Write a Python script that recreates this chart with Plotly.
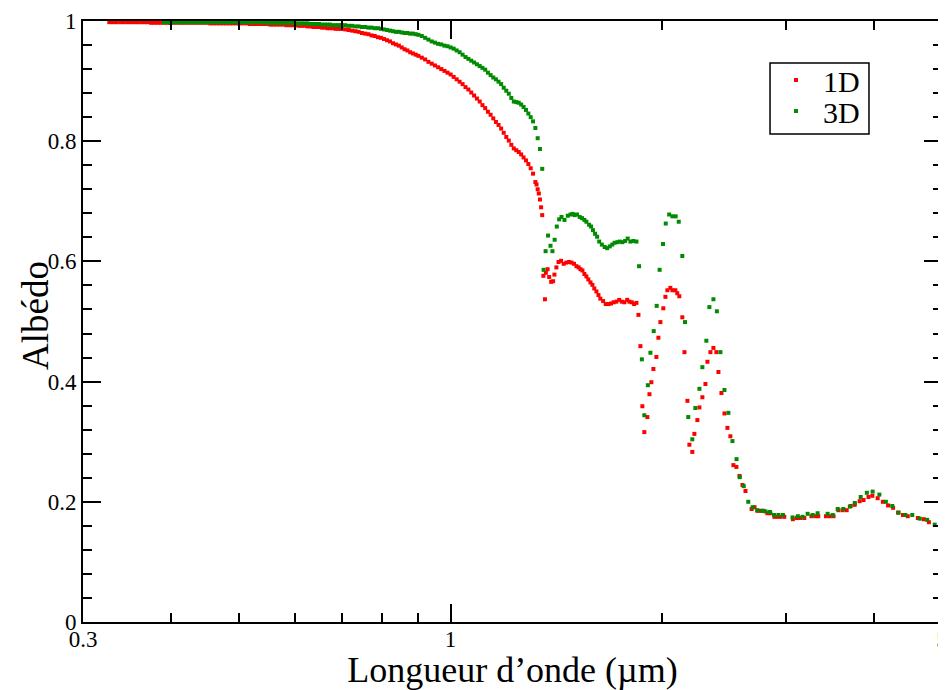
import math
import plotly.graph_objects as go

# ---------------- data ----------------
# 1D model (red)
wl_1d = [
    0.327, 0.331, 0.335, 0.339, 0.343, 0.347, 0.351, 0.355, 0.359, 0.363,
    0.367, 0.371, 0.375, 0.379, 0.383, 0.387, 0.391, 0.395, 0.399,
    0.400, 0.405, 0.410, 0.415, 0.420, 0.425, 0.430, 0.435, 0.440, 0.445,
    0.450, 0.455, 0.460, 0.465, 0.470, 0.475, 0.480, 0.485, 0.490, 0.495,
    0.500, 0.506, 0.512, 0.518, 0.524, 0.530, 0.536, 0.542, 0.548, 0.554,
    0.560, 0.566, 0.572, 0.578, 0.584, 0.590, 0.596, 0.602, 0.608, 0.614,
    0.620, 0.626, 0.632, 0.638, 0.644, 0.650, 0.656, 0.662, 0.668, 0.674,
    0.680, 0.686, 0.692, 0.698,
    0.700, 0.708, 0.716, 0.724, 0.732, 0.740, 0.748, 0.756, 0.764, 0.772,
    0.780, 0.788, 0.796, 0.804, 0.812, 0.820, 0.828, 0.836, 0.844, 0.852,
    0.860, 0.868, 0.876, 0.884, 0.892,
    0.90, 0.91, 0.92, 0.93, 0.94, 0.95, 0.96, 0.97, 0.98, 0.99,
    1.00, 1.01, 1.02, 1.03, 1.04, 1.05, 1.06, 1.07, 1.08, 1.09,
    1.10, 1.11, 1.12, 1.13, 1.14, 1.15, 1.16, 1.17, 1.18, 1.19,
    1.20, 1.21, 1.22, 1.23, 1.24, 1.25, 1.26, 1.27, 1.28, 1.29,
    1.30, 1.31, 1.32, 1.325, 1.33, 1.335, 1.34, 1.345, 1.35,
    1.355, 1.362, 1.366, 1.374, 1.381, 1.390, 1.399, 1.405, 1.414, 1.424,
    1.436, 1.448, 1.461, 1.474, 1.486, 1.498, 1.510, 1.521, 1.530, 1.540,
    1.550, 1.560, 1.570, 1.581, 1.591, 1.601, 1.612, 1.623, 1.633, 1.648,
    1.662, 1.677, 1.691, 1.706, 1.721, 1.737, 1.752, 1.767, 1.783, 1.796,
    1.810, 1.824, 1.838, 1.850, 1.862, 1.874, 1.886, 1.905, 1.918, 1.930,
    1.943, 1.962, 1.975, 1.988, 2.007, 2.021, 2.034, 2.054, 2.068, 2.088,
    2.101, 2.115, 2.136, 2.151, 2.172, 2.186, 2.207, 2.222, 2.244, 2.259,
    2.281, 2.304, 2.319, 2.342, 2.365, 2.388, 2.404, 2.428, 2.452, 2.476,
    2.500, 2.525, 2.550, 2.576, 2.601, 2.627, 2.680, 2.706, 2.733, 2.759,
    2.786, 2.822, 2.850, 2.888, 2.917, 2.945, 2.983, 3.068, 3.110, 3.142,
    3.185, 3.260, 3.302, 3.334, 3.419, 3.462, 3.505, 3.561, 3.610, 3.659,
    3.708, 3.757, 3.818, 3.867, 3.930, 3.980, 4.050, 4.120, 4.190, 4.260,
    4.330, 4.400, 4.470, 4.620, 4.710, 4.790,
]
alb_1d = [
    0.998, 0.998, 0.998, 0.998, 0.998, 0.998, 0.998, 0.998, 0.998, 0.998,
    0.998, 0.998, 0.997, 0.997, 0.997, 0.997, 0.997, 0.997, 0.997,
    0.997, 0.997, 0.997, 0.997, 0.997, 0.997, 0.997, 0.997, 0.997, 0.997,
    0.997, 0.996, 0.996, 0.996, 0.996, 0.996, 0.996, 0.996, 0.996, 0.996,
    0.996, 0.996, 0.996, 0.995, 0.995, 0.995, 0.995, 0.995, 0.995, 0.994,
    0.994, 0.994, 0.994, 0.994, 0.993, 0.993, 0.993, 0.993, 0.992, 0.992,
    0.992, 0.991, 0.991, 0.990, 0.990, 0.990, 0.989, 0.989, 0.988, 0.988,
    0.988, 0.987, 0.987, 0.987,
    0.987, 0.986, 0.985, 0.984, 0.983, 0.982, 0.980, 0.979, 0.978, 0.976,
    0.975, 0.973, 0.972, 0.970, 0.968, 0.966, 0.963, 0.961, 0.959, 0.956,
    0.953, 0.951, 0.948, 0.946, 0.944,
    0.942, 0.939, 0.936, 0.932, 0.929, 0.926, 0.923, 0.920, 0.917, 0.914,
    0.911, 0.907, 0.903, 0.899, 0.895, 0.890, 0.886, 0.881, 0.876, 0.871,
    0.866, 0.860, 0.855, 0.849, 0.844, 0.838, 0.832, 0.827, 0.821, 0.814,
    0.807, 0.801, 0.794, 0.788, 0.785, 0.782, 0.778, 0.773, 0.768, 0.762,
    0.755, 0.746, 0.732, 0.728, 0.720, 0.713, 0.703, 0.690, 0.677,
    0.576, 0.537, 0.581, 0.587, 0.574, 0.566, 0.567, 0.578, 0.590, 0.599,
    0.601, 0.596, 0.598, 0.599, 0.598, 0.596, 0.592, 0.590, 0.587, 0.585,
    0.579, 0.575, 0.570, 0.565, 0.561, 0.555, 0.550, 0.544, 0.538, 0.534,
    0.529, 0.529, 0.530, 0.532, 0.533, 0.536, 0.533, 0.532, 0.536, 0.533,
    0.532, 0.529, 0.531, 0.511, 0.459, 0.359, 0.316, 0.341, 0.379, 0.399,
    0.421, 0.441, 0.473, 0.499, 0.522, 0.541, 0.552, 0.556, 0.552, 0.552,
    0.547, 0.542, 0.507, 0.449, 0.368, 0.295, 0.283, 0.313, 0.336, 0.357,
    0.374, 0.396, 0.433, 0.449, 0.456, 0.449, 0.416, 0.381, 0.347, 0.323,
    0.309, 0.261, 0.258, 0.243, 0.228, 0.218, 0.188, 0.191, 0.185, 0.185,
    0.185, 0.181, 0.181, 0.175, 0.175, 0.175, 0.175, 0.171, 0.173, 0.173,
    0.173, 0.176, 0.176, 0.176, 0.176, 0.176, 0.176, 0.186, 0.186, 0.186,
    0.193, 0.195, 0.201, 0.203, 0.208, 0.210, 0.206, 0.200, 0.194, 0.190,
    0.182, 0.178, 0.176, 0.173, 0.171, 0.166,
]

# 3D model (green)
wl_3d = [
    0.391, 0.395, 0.399,
    0.400, 0.405, 0.410, 0.415, 0.420, 0.425, 0.430, 0.435, 0.440, 0.445,
    0.450, 0.455, 0.460, 0.465, 0.470, 0.475, 0.480, 0.485, 0.490, 0.495,
    0.500, 0.506, 0.512, 0.518, 0.524, 0.530, 0.536, 0.542, 0.548, 0.554,
    0.560, 0.566, 0.572, 0.578, 0.584, 0.590, 0.596, 0.602, 0.608, 0.614,
    0.620, 0.626, 0.632, 0.638, 0.644, 0.650, 0.656, 0.662, 0.668, 0.674,
    0.680, 0.686, 0.692, 0.698,
    0.700, 0.708, 0.716, 0.724, 0.732, 0.740, 0.748, 0.756, 0.764, 0.772,
    0.780, 0.788, 0.796, 0.804, 0.812, 0.820, 0.828, 0.836, 0.844, 0.852,
    0.860, 0.868, 0.876, 0.884, 0.892,
    0.90, 0.91, 0.92, 0.93, 0.94, 0.95, 0.96, 0.97, 0.98, 0.99,
    1.00, 1.01, 1.02, 1.03, 1.04, 1.05, 1.06, 1.07, 1.08, 1.09,
    1.10, 1.11, 1.12, 1.13, 1.14, 1.15, 1.16, 1.17, 1.18, 1.19,
    1.20, 1.21, 1.22, 1.23, 1.24, 1.25, 1.26, 1.27, 1.28, 1.29,
    1.30, 1.31, 1.32, 1.33, 1.34, 1.35,
    1.356, 1.365, 1.376, 1.387, 1.396, 1.406, 1.416, 1.427, 1.438, 1.452,
    1.468, 1.481, 1.492, 1.501, 1.513, 1.526, 1.538, 1.550, 1.560, 1.574,
    1.584, 1.594, 1.605, 1.616, 1.627, 1.641, 1.656, 1.670, 1.684, 1.698,
    1.711, 1.727, 1.740, 1.755, 1.771, 1.786, 1.802, 1.820, 1.838, 1.854,
    1.871, 1.886, 1.908, 1.924, 1.945, 1.964, 1.983, 2.005, 2.023, 2.046,
    2.068, 2.090, 2.111, 2.136, 2.155, 2.178, 2.207, 2.229, 2.259, 2.281,
    2.311, 2.334, 2.365, 2.392, 2.420, 2.452, 2.484, 2.517, 2.551, 2.578,
    2.612, 2.651, 2.689, 2.730, 2.776, 2.805, 2.846, 2.884, 2.926, 2.970,
    3.065, 3.118, 3.167, 3.220, 3.274, 3.327, 3.438, 3.496, 3.553, 3.619,
    3.697, 3.758, 3.831, 3.909, 3.984, 4.073, 4.160, 4.248, 4.338, 4.435,
    4.536, 4.649, 4.763, 4.882,
]
alb_3d = [
    0.998, 0.998, 0.998,
    0.998, 0.998, 0.998, 0.998, 0.998, 0.998, 0.998, 0.998, 0.998, 0.998,
    0.998, 0.998, 0.998, 0.998, 0.998, 0.998, 0.998, 0.998, 0.998, 0.998,
    0.998, 0.998, 0.998, 0.998, 0.998, 0.998, 0.998, 0.998, 0.997, 0.997,
    0.997, 0.997, 0.997, 0.997, 0.997, 0.997, 0.997, 0.996, 0.996, 0.996,
    0.996, 0.996, 0.995, 0.995, 0.995, 0.995, 0.994, 0.994, 0.994, 0.994,
    0.993, 0.993, 0.993, 0.993,
    0.993, 0.993, 0.992, 0.992, 0.991, 0.991, 0.990, 0.990, 0.989, 0.989,
    0.988, 0.988, 0.987, 0.986, 0.985, 0.984, 0.983, 0.982, 0.982, 0.981,
    0.980, 0.980, 0.979, 0.979, 0.978,
    0.977, 0.975, 0.972, 0.969, 0.966, 0.964, 0.962, 0.961, 0.959, 0.958,
    0.956, 0.954, 0.951, 0.948, 0.944, 0.940, 0.937, 0.934, 0.931, 0.928,
    0.925, 0.922, 0.919, 0.914, 0.910, 0.906, 0.903, 0.899, 0.895, 0.889,
    0.884, 0.879, 0.872, 0.866, 0.865, 0.864, 0.861, 0.857, 0.852, 0.846,
    0.840, 0.833, 0.822, 0.805, 0.787, 0.754,
    0.586, 0.617, 0.643, 0.626, 0.617, 0.636, 0.658, 0.670, 0.674, 0.669,
    0.676, 0.678, 0.679, 0.677, 0.678, 0.674, 0.672, 0.669, 0.666, 0.661,
    0.658, 0.652, 0.646, 0.641, 0.633, 0.628, 0.624, 0.622, 0.625, 0.628,
    0.631, 0.632, 0.633, 0.632, 0.634, 0.638, 0.633, 0.634, 0.633, 0.592,
    0.437, 0.344, 0.394, 0.448, 0.484, 0.526, 0.586, 0.629, 0.663, 0.678,
    0.675, 0.675, 0.666, 0.609, 0.499, 0.341, 0.304, 0.356, 0.388, 0.424,
    0.468, 0.524, 0.537, 0.517, 0.449, 0.386, 0.348, 0.301, 0.271, 0.241,
    0.226, 0.200, 0.191, 0.186, 0.185, 0.184, 0.183, 0.178, 0.178, 0.178,
    0.174, 0.176, 0.175, 0.180, 0.178, 0.181, 0.180, 0.178, 0.188, 0.188,
    0.192, 0.198, 0.208, 0.215, 0.217, 0.212, 0.200, 0.193, 0.182, 0.178,
    0.178, 0.172, 0.170, 0.162,
]

series_names = ["1D", "3D"]
series_colors = ["#ff0000", "#008b00"]

x_tickvals = [0.3, 1, 5]
x_ticktext = ["0.3", "1", "5"]
x_minor_vals = [0.4, 0.5, 0.6, 0.7, 0.8, 0.9, 2, 3, 4]
y_tickvals = [0, 0.2, 0.4, 0.6, 0.8, 1]
y_ticktext = ["0", "0.2", "0.4", "0.6", "0.8", "1"]

x_title = "Longueur d’onde (µm)"
y_title = "Albédo"

# ---------------- figure ----------------
FONT = "Liberation Serif"
# the page body keeps an 8 px margin: the figure is drawn 8 px right/down,
# so the left/top margins are reduced by 8 px; the figure keeps extra room
# on the right so the last tick label is only cut by the window edge
FIG_W, FIG_H = 946, 682

fig = go.Figure()
traces = [(wl_1d, alb_1d, series_names[0], series_colors[0], "legend"),
          (wl_3d, alb_3d, series_names[1], series_colors[1], "legend2")]
for xs, ys, name, col, leg in traces:
    fig.add_trace(go.Scatter(
        x=xs, y=ys, mode="markers", name=name, cliponaxis=False, legend=leg,
        marker=dict(symbol="square", size=4, color=col, line=dict(width=0)),
    ))

axis_common = dict(
    showline=True, linewidth=2, linecolor="black", mirror="ticks",
    ticks="inside", ticklen=18, tickwidth=1.5, tickcolor="black",
    showgrid=False, zeroline=False, automargin=False,
    ticklabeloverflow="allow",
    tickfont=dict(family=FONT, size=23, color="black"),
)

legend_common = dict(
    xanchor="left", yanchor="middle", x=0.7986,
    bgcolor="rgba(0,0,0,0)", borderwidth=0, itemwidth=44,
    font=dict(family=FONT, size=30, color="black"),
)

fig.update_layout(
    width=FIG_W, height=FIG_H,
    margin=dict(l=75, r=12, t=13, b=68),
    plot_bgcolor="white", paper_bgcolor="white",
    font=dict(family=FONT, color="black"),
    xaxis=dict(
        type="log", range=[math.log10(0.3), math.log10(5)],
        tickmode="array", tickvals=x_tickvals, ticktext=x_ticktext,
        ticklabelstandoff=-5,
        minor=dict(tickmode="array", tickvals=x_minor_vals, ticks="inside",
                   ticklen=9, tickwidth=1.5, tickcolor="black", showgrid=False),
        title=dict(text=x_title, font=dict(family=FONT, size=36), standoff=0),
        **axis_common,
    ),
    yaxis=dict(
        range=[0, 1],
        tickmode="array", tickvals=y_tickvals, ticktext=y_ticktext,
        minor=dict(dtick=0.04, ticks="inside", ticklen=9, tickwidth=1.5,
                   tickcolor="black", showgrid=False),
        **axis_common,
    ),
    legend=dict(y=0.9018, **legend_common),
    legend2=dict(y=0.8502, **legend_common),
    showlegend=True,
    shapes=[dict(type="rect", xref="paper", yref="paper",
                 x0=0.7998, x1=0.9150, y0=0.8120, y1=0.9301,
                 line=dict(color="black", width=1.5), fillcolor="white",
                 layer="below")],
    annotations=[dict(text=y_title, xref="paper", yref="paper",
                      x=-0.0559, y=0.5108, xanchor="center", yanchor="middle",
                      textangle=-90, showarrow=False,
                      font=dict(family=FONT, size=37, color="black"))],
)

fig.write_html("out.html")
